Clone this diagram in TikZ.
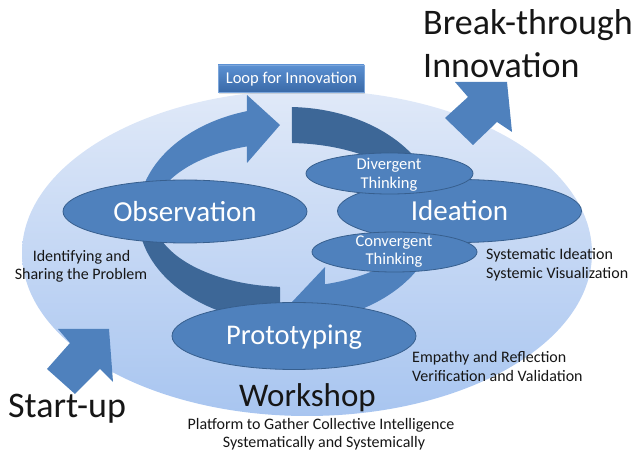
\documentclass[tikz,border=0pt]{standalone}
\usepackage{fontspec}
\setmainfont{Carlito}
\usetikzlibrary{shapes.geometric,shadows}
\definecolor{arrowblue}{HTML}{4F81BD}
\definecolor{arrowdark}{HTML}{3D6797}
\definecolor{ringedge}{HTML}{375F8E}
\definecolor{fieldtop}{HTML}{E0E9F8}
\definecolor{fieldbot}{HTML}{A8C5F0}
\definecolor{boxtop}{HTML}{5B90D2}
\definecolor{boxbot}{HTML}{3A6AA8}
\definecolor{inktext}{HTML}{161616}
\newcommand\fsz[2]{\fontsize{#1}{#2}\selectfont}
% centre of the loop ring
\newcommand\ringx{288}
\newcommand\ringy{215}
\begin{document}
\begin{tikzpicture}[x=1pt,y=-1pt,
  stage/.style={ellipse, fill=arrowblue, draw=ringedge, line width=0.8pt, inner sep=0pt},
  bigstage/.style={stage, minimum width=244pt, minimum height=63pt},
  smallstage/.style={stage, minimum width=166pt, minimum height=41pt},
  stagetext/.style={text=white, inner sep=0pt, anchor=base},
  notetext/.style={text=inktext, inner sep=0pt, anchor=base, font=\fsz{16}{19}},
  titletext/.style={text=inktext, inner sep=0pt, anchor=base west, font=\fsz{36}{43}},
  loopbox/.style={rectangle, top color=boxtop, bottom color=boxbot, draw=boxtop!80!white,
    line width=0.5pt, minimum width=146pt, minimum height=27pt, inner sep=0pt,
    drop shadow={opacity=0.25, shadow xshift=0.5pt, shadow yshift=-2pt}},
]
\useasboundingbox (0,0) rectangle (638,454);

% workshop field
\shade[top color=fieldtop, bottom color=fieldbot] (307,253) ellipse [x radius=285, y radius=163];

% start-up and break-through block arrows
\fill[arrowblue] (109,329) -- (113,382) -- (100,369) -- (75,394) -- (47,369) -- (70,343) -- (58,329) -- cycle;
\fill[arrowblue] (507,82) -- (512,132) -- (497,122) -- (473,145) -- (445,118) -- (468,97) -- (455,82) -- cycle;

% loop arrow from prototyping over the left side up to the top
\fill[arrowdark]
  plot[domain=267:178, samples=40, variable=\t] ({\ringx+150*cos(\t)},{\ringy-108*sin(\t)})
  -- plot[domain=178:266.6, samples=40, variable=\t] ({\ringx+135*cos(\t)},{\ringy-72*sin(\t)})
  -- cycle;
\fill[arrowblue]
  plot[domain=182:105.9, samples=40, variable=\t] ({\ringx+150*cos(\t)},{\ringy-108*sin(\t)})
  -- (247,95) -- (280,125) -- (247,163)
  -- plot[domain=107.7:182, samples=40, variable=\t] ({\ringx+135*cos(\t)},{\ringy-72*sin(\t)})
  -- cycle;

% loop arrow from the top over the right side down to prototyping
\fill[arrowdark]
  plot[domain=88.5:-3, samples=40, variable=\t] ({\ringx+150*cos(\t)},{\ringy-108*sin(\t)})
  -- plot[domain=-3:88.3, samples=40, variable=\t] ({\ringx+135*cos(\t)},{\ringy-72*sin(\t)})
  -- cycle;
\fill[arrowblue]
  plot[domain=1:-75.7, samples=40, variable=\t] ({\ringx+150*cos(\t)},{\ringy-108*sin(\t)})
  -- (325,337) -- (292,302) -- (325,267)
  -- plot[domain=-74.1:1, samples=40, variable=\t] ({\ringx+135*cos(\t)},{\ringy-72*sin(\t)})
  -- cycle;

% stages
\node[bigstage] (obs) at (185,211.5) {};
\node[bigstage] (idea) at (459.5,211) {};
\node[bigstage, minimum height=67pt] (proto) at (294,336) {};
\node[smallstage, minimum width=167pt] (div) at (389.5,173.5) {};
\node[smallstage, minimum width=165pt, minimum height=40pt] (conv) at (394.5,252) {};

\node[stagetext, font=\fsz{29}{34}] (obsT) at (185,222) {Observation};
\node[stagetext, font=\fsz{29}{34}] (ideaT) at (459.5,221) {Ideation};
\node[stagetext, font=\fsz{28.5}{34}] (protoT) at (294,345) {Prototyping};
\node[stagetext, font=\fsz{16.5}{19}] (divA) at (389,170) {Divergent};
\node[stagetext, font=\fsz{16.5}{19}] (divB) at (389,189) {Thinking};
\node[stagetext, font=\fsz{16.5}{19}] (convA) at (394,247) {Convergent};
\node[stagetext, font=\fsz{16.5}{19}] (convB) at (394,265) {Thinking};

% loop caption
\node[loopbox] (loop) at (291,78.5) {};
\node[stagetext, font=\fsz{16.5}{19}] (loopT) at (291.5,84) {Loop for Innovation};

% notes around the loop
\node[notetext] (obsA) at (81.5,262) {Identifying and};
\node[notetext] (obsB) at (81,280) {Sharing the Problem};
\node[notetext, anchor=base west] (ideaA) at (486,260) {Systematic Ideation};
\node[notetext, anchor=base west] (ideaB) at (486,279) {Systemic Visualization};
\node[notetext, anchor=base west] (protoA) at (412,363) {Empathy and Reflection};
\node[notetext, anchor=base west] (protoB) at (412,382) {Verification and Validation};

% workshop captions
\node[notetext, font=\fsz{33}{38}] (shop) at (307.5,407) {Workshop};
\node[notetext] (shopA) at (321,430) {Platform to Gather Collective Intelligence};
\node[notetext] (shopB) at (324,448) {Systematically and Systemically};

% start and goal
\node[titletext] (start) at (8,418) {Start-up};
\node[titletext] (goalA) at (423,35) {Break-through};
\node[titletext] (goalB) at (423,78) {Innovation};
\end{tikzpicture}
\end{document}
